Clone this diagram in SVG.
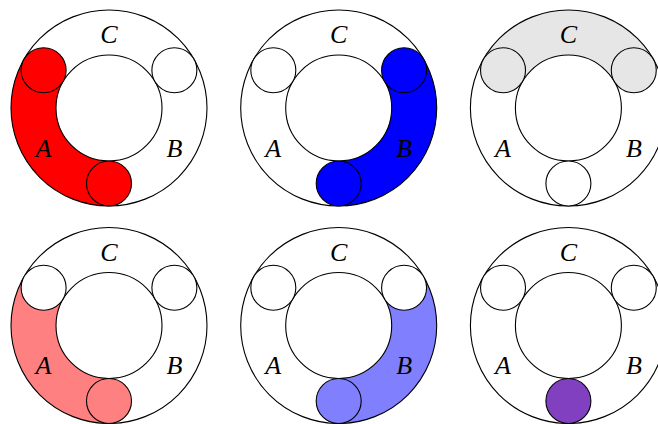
<svg xmlns="http://www.w3.org/2000/svg" width="658" height="424" viewBox="0 0 658 424">
<style>
.ln{fill:none;stroke:#000;stroke-width:1.1}
.sm{stroke:#000;stroke-width:1.1}
.w{fill:#fff}
.lb{font-family:"Liberation Serif","Times New Roman",serif;font-style:italic;font-size:26px;text-anchor:middle}
</style>
<defs>
<path id="secA" d="M-84.87,-49 A98,98 0 0 0 0,98 L0,53 A53,53 0 0 1 -45.9,-26.5 Z"/>
<path id="secB" d="M0,98 A98,98 0 0 0 84.87,-49 L45.9,-26.5 A53,53 0 0 1 0,53 Z"/>
<path id="secC" d="M84.87,-49 A98,98 0 0 0 -84.87,-49 L-45.9,-26.5 A53,53 0 0 1 45.9,-26.5 Z"/>
<g id="rings">
<circle class="ln" r="98"/>
<circle class="ln" r="53"/>
</g>
<g id="labels">
<text class="lb" x="0" y="-65">C</text>
<text class="lb" x="-65.5" y="48.5">A</text>
<text class="lb" x="65.5" y="48.5">B</text>
</g>
</defs>

<g id="panel1" transform="translate(109,108)">
<use href="#secA" fill="#ff0000"/>
<use href="#rings"/>
<circle class="sm" cx="-65.38" cy="-37.75" r="22.5" fill="#ff0000"/>
<circle class="sm w" cx="65.38" cy="-37.75" r="22.5"/>
<circle class="sm" cx="0" cy="75.5" r="22.5" fill="#ff0000"/>
<use href="#labels"/>
</g>

<g id="panel2" transform="translate(338.7,108)">
<use href="#secB" fill="#0000ff"/>
<use href="#rings"/>
<circle class="sm w" cx="-65.38" cy="-37.75" r="22.5"/>
<circle class="sm" cx="65.38" cy="-37.75" r="22.5" fill="#0000ff"/>
<circle class="sm" cx="0" cy="75.5" r="22.5" fill="#0000ff"/>
<use href="#labels"/>
</g>

<g id="panel3" transform="translate(568.4,108)">
<use href="#secC" fill="#e6e6e6"/>
<use href="#rings"/>
<circle class="sm" cx="-65.38" cy="-37.75" r="22.5" fill="#e6e6e6"/>
<circle class="sm" cx="65.38" cy="-37.75" r="22.5" fill="#e6e6e6"/>
<circle class="sm w" cx="0" cy="75.5" r="22.5"/>
<use href="#labels"/>
</g>

<g id="panel4" transform="translate(109,325.5)">
<use href="#secA" fill="#ff8080"/>
<use href="#rings"/>
<circle class="sm w" cx="-65.38" cy="-37.75" r="22.5"/>
<circle class="sm w" cx="65.38" cy="-37.75" r="22.5"/>
<circle class="sm" cx="0" cy="75.5" r="22.5" fill="#ff8080"/>
<use href="#labels"/>
</g>

<g id="panel5" transform="translate(338.7,325.5)">
<use href="#secB" fill="#8080ff"/>
<use href="#rings"/>
<circle class="sm w" cx="-65.38" cy="-37.75" r="22.5"/>
<circle class="sm w" cx="65.38" cy="-37.75" r="22.5"/>
<circle class="sm" cx="0" cy="75.5" r="22.5" fill="#8080ff"/>
<use href="#labels"/>
</g>

<g id="panel6" transform="translate(568.4,325.5)">
<use href="#rings"/>
<circle class="sm w" cx="-65.38" cy="-37.75" r="22.5"/>
<circle class="sm w" cx="65.38" cy="-37.75" r="22.5"/>
<circle class="sm" cx="0" cy="75.5" r="22.5" fill="#8040bf"/>
<use href="#labels"/>
</g>

<g id="connectors"/>
</svg>
